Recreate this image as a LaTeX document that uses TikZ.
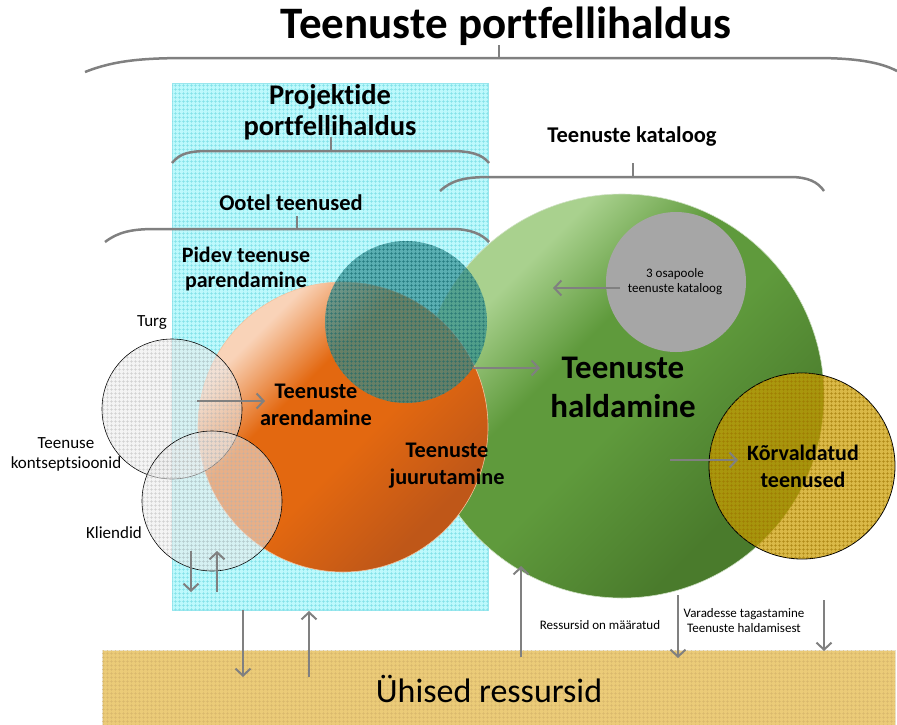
\documentclass[tikz,border=0pt]{standalone}
\usepackage{fontspec}
\setmainfont{Carlito}[Ligatures={CommonOff}]
\usetikzlibrary{arrows.meta,patterns.meta}
\definecolor{linegray}{HTML}{808080}
\definecolor{cyanbase}{HTML}{BDF9FC}
\definecolor{cyangrid}{HTML}{7FE0E8}
\definecolor{sandbase}{HTML}{EBCB78}
\definecolor{sandgrid}{HTML}{C99A2E}
\definecolor{peach}{HTML}{F9D3B8}
\definecolor{orangemid}{HTML}{E36810}
\definecolor{orangedark}{HTML}{BF5718}
\definecolor{greenlight}{HTML}{A9D18E}
\definecolor{greenmid}{HTML}{5F9A3C}
\definecolor{greendark}{HTML}{4A7B2C}
\definecolor{tealfill}{HTML}{2C8C90}
\definecolor{tealgrid}{HTML}{16666A}
\definecolor{goldfill}{HTML}{CC9E00}
\definecolor{goldgrid}{HTML}{9C7400}
\definecolor{stonegray}{HTML}{A6A6A6}
\pgfdeclareverticalshading{orangeglow}{100bp}{color(0bp)=(orangedark); color(28bp)=(orangedark);
  color(46bp)=(orangemid); color(60bp)=(orangemid); color(72bp)=(peach); color(100bp)=(peach)}
\pgfdeclareverticalshading{greenglow}{100bp}{color(0bp)=(greendark); color(30bp)=(greendark);
  color(48bp)=(greenmid); color(58bp)=(greenmid); color(70bp)=(greenlight); color(100bp)=(greenlight)}
\begin{document}
\begin{tikzpicture}[x=1pt,y=-1pt,
  conn/.style={draw=linegray, line width=2pt,
    -{Straight Barb[length=7pt,width=15pt,line width=2pt]}},
  bracket/.style={draw=linegray, line width=2.5pt},
  bigtitle/.style={font=\fontsize{45}{50}\selectfont\bfseries},
  headlabel/.style={font=\fontsize{22.5}{27}\selectfont\bfseries, align=center},
  stagelabel/.style={font=\fontsize{22.3}{27}\selectfont\bfseries, align=center},
  smalllabel/.style={font=\fontsize{17}{20}\selectfont, align=center},
  tinylabel/.style={font=\fontsize{13}{15}\selectfont, align=center},
  disc/.style={circle, inner sep=0pt, minimum size=#1},
  grid/.style={postaction={pattern={Hatch[angle=0,distance=4pt,line width=0.5pt]}, pattern color=#1}}
]
\useasboundingbox (0,0) rectangle (897,724);

% project portfolio panel and shared resources band
\node[draw=cyangrid!80, line width=0.8pt, fill=cyanbase, grid=cyangrid, inner sep=0pt,
      minimum width=316pt, minimum height=527pt] (panel) at (330,346.5) {};
\node[draw=sandbase!80!black!30, line width=0.8pt, fill=sandbase, grid=sandgrid!70, inner sep=0pt,
      minimum width=793pt, minimum height=76pt] (band) at (498.5,688) {};
\node[font=\fontsize{34}{38}\selectfont] (shared) at (489,689) {Ühised ressursid};

% titles
\node[bigtitle] (title) at (506,26) {Teenuste portfellihaldus};
\node[font=\fontsize{28.5}{31}\selectfont\bfseries, align=center] (projtitle) at (330,112) {Projektide\\portfellihaldus};
\node[headlabel] (catalog) at (632,137) {Teenuste kataloog};
\node[headlabel] (pending) at (291,203) {Ootel teenused};

% brackets
\draw[bracket] (85,72) .. controls (115,60) and (145,58) .. (190,58) -- (815,58)
  .. controls (855,58) and (880,62) .. (897,71);
\coordinate (tickA) at (499,45);
\draw[bracket] (tickA) -- (499,58);
\draw[bracket] (172,163) .. controls (180,153) and (190,151) .. (210,151) -- (450,151)
  .. controls (470,151) and (482,154) .. (489,163);
\coordinate (tickB) at (331,137);
\draw[bracket] (tickB) -- (331,151);
\draw[bracket] (440,191) .. controls (452,180) and (465,177) .. (490,177) -- (790,177)
  .. controls (808,177) and (818,182) .. (824,191);
\coordinate (tickC) at (633,163);
\draw[bracket] (tickC) -- (633,177);
\draw[bracket] (105,242) .. controls (118,232) and (132,229) .. (155,229) -- (452,229)
  .. controls (470,229) and (482,234) .. (489,242);
\coordinate (tickD) at (297,216);
\draw[bracket] (tickD) -- (297,229);

% service management circle and its satellites
\node[disc=404pt, draw=white!70!greenmid, line width=0.6pt,
      shading=greenglow, shading angle=45] (mgmt) at (622,396) {};
\node[disc=290pt, draw=white!60!orangemid, line width=0.6pt,
      shading=orangeglow, shading angle=45] (dev) at (343,427) {};
\node[disc=162pt, fill=tealfill, fill opacity=0.68, grid=tealgrid] (improve) at (406,322) {};
\node[disc=140pt, fill=stonegray] (third) at (676,282) {};
\node[disc=186pt, draw=black, line width=0.8pt, fill=goldfill, fill opacity=0.72, grid=goldgrid] (retired) at (802,466) {};
\node[disc=140pt, draw=black, line width=0.6pt, fill=white!92!black, fill opacity=0.55,
      grid=gray!60] (market) at (172,409) {};
\node[disc=140pt, draw=black, line width=0.6pt, fill=white!92!black, fill opacity=0.55,
      grid=gray!60] (clients) at (212,501) {};

% labels
\node[font=\fontsize{22}{25}\selectfont\bfseries, align=center] (improvetxt) at (246,269) {Pidev teenuse\\parendamine};
\node[stagelabel] (devtxt) at (316,405) {Teenuste\\arendamine};
\node[stagelabel] (deploytxt) at (447,466) {Teenuste\\juurutamine};
\node[font=\fontsize{33}{39}\selectfont\bfseries, align=center] (mgmttxt) at (623,387) {Teenuste\\haldamine};
\node[font=\fontsize{22}{27}\selectfont\bfseries, align=center] (retiredtxt) at (803,466) {Kõrvaldatud\\teenused};
\node[tinylabel] (thirdtxt) at (675,282) {3 osapoole\\teenuste kataloog};
\node[smalllabel] (markettxt) at (152,322) {Turg};
\node[smalllabel] (concepttxt) at (66,454) {Teenuse\\kontseptsioonid};
\node[smalllabel] (clienttxt) at (114,533) {Kliendid};
\node[tinylabel] (assigned) at (600,625) {Ressursid on määratud};
\node[tinylabel] (returned) at (744,621) {Varadesse tagastamine\\Teenuste haldamisest};

% connectors
\coordinate (m1) at (197,401);
\coordinate (m2) at (265,401);
\draw[conn] (m1) -- (m2);
\coordinate (d1) at (473,368);
\coordinate (d2) at (540,368);
\draw[conn] (d1) -- (d2);
\coordinate (t1) at (620,288);
\coordinate (t2) at (553,288);
\draw[conn] (t1) -- (t2);
\coordinate (r1) at (670,460);
\coordinate (r2) at (738,460);
\draw[conn] (r1) -- (r2);
\coordinate (c1) at (191,551);
\coordinate (c2) at (191,592);
\draw[conn] (c1) -- (c2);
\coordinate (c3) at (217,592);
\coordinate (c4) at (217,551);
\draw[conn] (c3) -- (c4);
\coordinate (p1) at (243,610);
\coordinate (p2) at (243,677);
\draw[conn] (p1) -- (p2);
\coordinate (p3) at (309,677);
\coordinate (p4) at (309,611);
\draw[conn] (p3) -- (p4);
\coordinate (s1) at (521,657);
\coordinate (s2) at (521,566);
\draw[conn] (s1) -- (s2);
\coordinate (s3) at (678,595);
\coordinate (s4) at (678,658);
\draw[conn] (s3) -- (s4);
\coordinate (s5) at (824,600);
\coordinate (s6) at (824,651);
\draw[conn] (s5) -- (s6);
\end{tikzpicture}
\end{document}
